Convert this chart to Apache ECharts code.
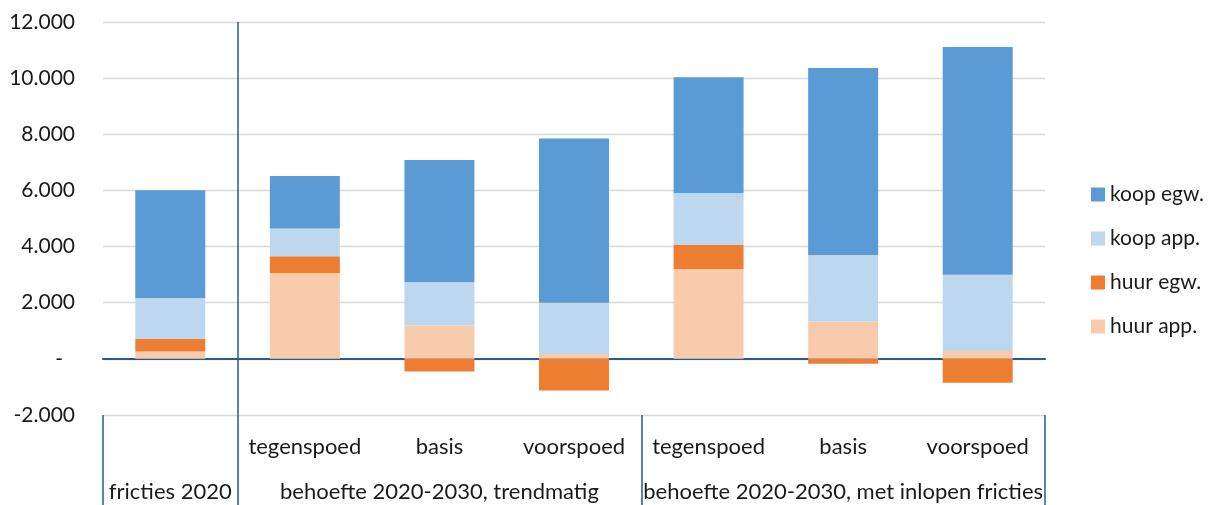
<!DOCTYPE html>
<html>
<head>
<meta charset="utf-8">
<script src="https://cdn.jsdelivr.net/npm/echarts@6/dist/echarts.min.js"></script>
<style>
html,body{margin:0;padding:0;background:#fff;}
#c{width:1208px;height:505px;}
</style>
</head>
<body>
<div id="c"></div>
<script>
// ---- data ----
const scenarios = ['', 'tegenspoed', 'basis', 'voorspoed', 'tegenspoed', 'basis', 'voorspoed'];
const groupNames = ['fricties 2020', 'behoefte 2020-2030, trendmatig', 'behoefte 2020-2030, met inlopen fricties'];
const groupSizes = [1, 3, 3];
const huurApp = [260, 3060, 1185, 170, 3200, 1330, 280];
const huurEgw = [450, 595, -450, -1130, 860, -170, -850];
const koopApp = [1460, 985, 1545, 1830, 1850, 2370, 2720];
const koopEgw = [3840, 1870, 4350, 5850, 4120, 6660, 8110];
const yTicks = { min: -2000, max: 12000, interval: 2000 };
const legendOrder = ['koop egw.', 'koop app.', 'huur egw.', 'huur app.'];

// derived group boundaries and centers (in category units)
const bounds = [0];
groupSizes.forEach(s => bounds.push(bounds[bounds.length - 1] + s));
const centers = groupSizes.map((s, i) => bounds[i] + s / 2);
const groupLabelMap = {};
centers.forEach((c, i) => { groupLabelMap[c.toFixed(2)] = groupNames[i]; });

const FONT = 'Lato';
const TXT = '#1a1a1a';
const LINE = '#2A5B8C';

function fmtY(v) {
  if (v === 0) return '{z|-}';
  const s = Math.abs(v).toString().replace(/\B(?=(\d{3})+(?!\d))/g, '.');
  return (v < 0 ? '-' : '') + s;
}

const chart = echarts.init(document.getElementById('c'), null, { renderer: 'canvas' });
const total = scenarios.length;

chart.setOption({
  animation: false,
  textStyle: { fontFamily: FONT },
  grid: { left: 103, right: 163, top: 22, bottom: 90, containLabel: false },
  legend: {
    data: legendOrder,
    orient: 'vertical',
    left: 1086,
    top: 179,
    itemWidth: 14,
    itemHeight: 14,
    itemGap: 23,
    icon: 'rect',
    textStyle: { fontFamily: FONT, fontSize: 21, color: TXT }
  },
  xAxis: [
    { // zero line
      type: 'category', data: scenarios, position: 'bottom',
      axisLine: { show: true, onZero: true, lineStyle: { color: LINE, width: 2 } },
      axisTick: { show: false }, axisLabel: { show: false }, splitLine: { show: false }
    },
    { // scenario labels
      type: 'category', data: scenarios, position: 'bottom',
      axisLine: { show: false, onZero: false },
      axisTick: { show: false },
      axisLabel: { show: true, interval: 0, margin: 20, fontFamily: FONT, fontSize: 22, color: TXT, lineHeight: 24 },
      splitLine: { show: false }
    },
    { // group labels + separators
      type: 'value', min: 0, max: total, position: 'bottom',
      axisLine: { show: false, onZero: false },
      axisTick: { show: true, customValues: bounds, length: 90, lineStyle: { color: LINE, width: 1.5 } },
      axisLabel: {
        show: true, customValues: centers, margin: 65, fontFamily: FONT, fontSize: 22, color: TXT, lineHeight: 24,
        formatter: v => groupLabelMap[Number(v).toFixed(2)] || ''
      },
      splitLine: { show: false }
    },
    { // vertical separator through plot
      type: 'value', min: 0, max: total, position: 'top',
      axisLine: { show: false, onZero: false },
      axisTick: { show: false, customValues: [bounds[1]] },
      axisLabel: { show: false },
      splitLine: { show: true, lineStyle: { color: LINE, width: 1.5 } }
    }
  ],
  yAxis: {
    type: 'value', min: yTicks.min, max: yTicks.max, interval: yTicks.interval,
    axisLine: { show: false }, axisTick: { show: false },
    axisLabel: {
      margin: 28, fontFamily: FONT, fontSize: 21, color: TXT, formatter: fmtY,
      rich: { z: { fontFamily: FONT, fontSize: 21, color: TXT, padding: [0, 12, 0, 0] } }
    },
    splitLine: { lineStyle: { color: '#D9D9D9', width: 1.3 } }
  },
  series: [
    { name: 'huur app.', type: 'bar', stack: 'tot', xAxisIndex: 0, data: huurApp, barWidth: '52%', itemStyle: { color: '#F8CBAD' } },
    { name: 'huur egw.', type: 'bar', stack: 'tot', xAxisIndex: 0, data: huurEgw, barWidth: '52%', itemStyle: { color: '#ED7D31' } },
    { name: 'koop app.', type: 'bar', stack: 'tot', xAxisIndex: 0, data: koopApp, barWidth: '52%', itemStyle: { color: '#BDD7EE' } },
    { name: 'koop egw.', type: 'bar', stack: 'tot', xAxisIndex: 0, data: koopEgw, barWidth: '52%', itemStyle: { color: '#5B9BD5' } }
  ]
});
</script>
</body>
</html>
